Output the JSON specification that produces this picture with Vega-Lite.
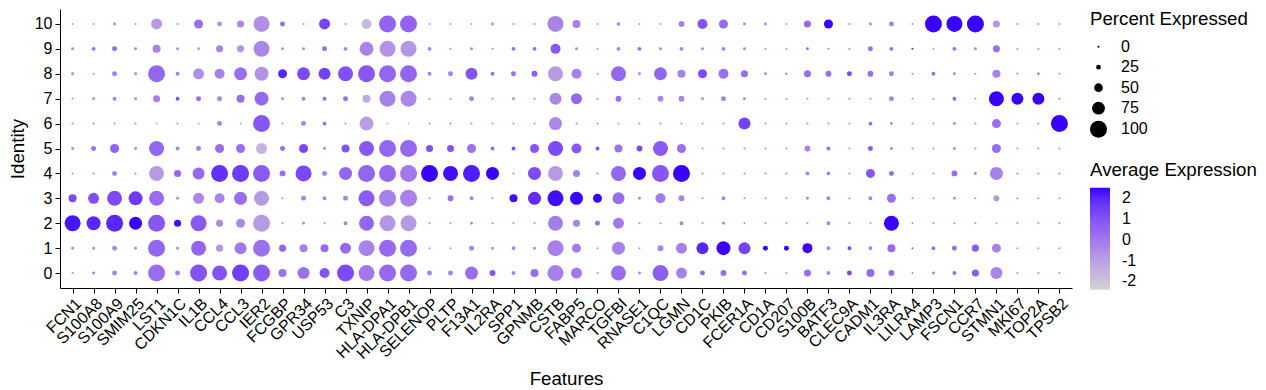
{
"$schema": "https://vega.github.io/schema/vega-lite/v6.json",
"width": 1012, "height": 279,
"autosize": {"type": "none"},
"padding": {"left": 60, "top": 9, "right": 194, "bottom": 102},
"background": "white",
"config": {"view": {"stroke": null}, "font": "Liberation Sans"},
"datasets": {"d": [
{"g":"FCN1","i":10,"p":1,"e":-0.4},{"g":"FCN1","i":9,"p":13,"e":-0.4},{"g":"FCN1","i":8,"p":13,"e":-0.4},{"g":"FCN1","i":7,"p":1,"e":-0.4},{"g":"FCN1","i":6,"p":1,"e":-0.4},{"g":"FCN1","i":5,"p":13,"e":-0.4},{"g":"FCN1","i":4,"p":1,"e":-0.4},{"g":"FCN1","i":3,"p":46,"e":1.2},{"g":"FCN1","i":2,"p":94,"e":2.3},{"g":"FCN1","i":1,"p":13,"e":-0.4},{"g":"FCN1","i":0,"p":1,"e":-0.4},
{"g":"S100A8","i":10,"p":1,"e":-0.4},{"g":"S100A8","i":9,"p":20,"e":0.3},{"g":"S100A8","i":8,"p":1,"e":-0.4},{"g":"S100A8","i":7,"p":13,"e":-0.4},{"g":"S100A8","i":6,"p":1,"e":-0.4},{"g":"S100A8","i":5,"p":27,"e":0.3},{"g":"S100A8","i":4,"p":1,"e":-0.4},{"g":"S100A8","i":3,"p":64,"e":1.1},{"g":"S100A8","i":2,"p":82,"e":2.0},{"g":"S100A8","i":1,"p":13,"e":-0.4},{"g":"S100A8","i":0,"p":13,"e":-0.4},
{"g":"S100A9","i":10,"p":13,"e":-0.4},{"g":"S100A9","i":9,"p":27,"e":0.4},{"g":"S100A9","i":8,"p":27,"e":-0.2},{"g":"S100A9","i":7,"p":20,"e":-0.3},{"g":"S100A9","i":6,"p":1,"e":-0.4},{"g":"S100A9","i":5,"p":52,"e":0.6},{"g":"S100A9","i":4,"p":27,"e":-0.3},{"g":"S100A9","i":3,"p":88,"e":1.2},{"g":"S100A9","i":2,"p":100,"e":2.0},{"g":"S100A9","i":1,"p":27,"e":-0.4},{"g":"S100A9","i":0,"p":27,"e":-0.3},
{"g":"SMIM25","i":10,"p":1,"e":-0.4},{"g":"SMIM25","i":9,"p":13,"e":-0.4},{"g":"SMIM25","i":8,"p":13,"e":-0.4},{"g":"SMIM25","i":7,"p":13,"e":-0.4},{"g":"SMIM25","i":6,"p":1,"e":-0.4},{"g":"SMIM25","i":5,"p":13,"e":-0.4},{"g":"SMIM25","i":4,"p":1,"e":-0.4},{"g":"SMIM25","i":3,"p":82,"e":1.6},{"g":"SMIM25","i":2,"p":76,"e":2.5},{"g":"SMIM25","i":1,"p":13,"e":-0.4},{"g":"SMIM25","i":0,"p":20,"e":-0.3},
{"g":"LST1","i":10,"p":64,"e":-0.9},{"g":"LST1","i":9,"p":46,"e":-0.3},{"g":"LST1","i":8,"p":100,"e":0.5},{"g":"LST1","i":7,"p":40,"e":-0.2},{"g":"LST1","i":6,"p":1,"e":-1.5},{"g":"LST1","i":5,"p":88,"e":0.5},{"g":"LST1","i":4,"p":88,"e":-0.9},{"g":"LST1","i":3,"p":88,"e":0.3},{"g":"LST1","i":2,"p":100,"e":0.9},{"g":"LST1","i":1,"p":100,"e":0.5},{"g":"LST1","i":0,"p":100,"e":0.3},
{"g":"CDKN1C","i":10,"p":1,"e":-0.4},{"g":"CDKN1C","i":9,"p":13,"e":-0.4},{"g":"CDKN1C","i":8,"p":20,"e":-0.3},{"g":"CDKN1C","i":7,"p":20,"e":1.0},{"g":"CDKN1C","i":6,"p":1,"e":-0.4},{"g":"CDKN1C","i":5,"p":20,"e":-0.3},{"g":"CDKN1C","i":4,"p":40,"e":0.5},{"g":"CDKN1C","i":3,"p":13,"e":-0.4},{"g":"CDKN1C","i":2,"p":40,"e":2.4},{"g":"CDKN1C","i":1,"p":13,"e":-0.4},{"g":"CDKN1C","i":0,"p":27,"e":-0.3},
{"g":"IL1B","i":10,"p":52,"e":0.3},{"g":"IL1B","i":9,"p":13,"e":-0.9},{"g":"IL1B","i":8,"p":64,"e":-0.6},{"g":"IL1B","i":7,"p":27,"e":0.3},{"g":"IL1B","i":6,"p":1,"e":-1.0},{"g":"IL1B","i":5,"p":27,"e":-0.3},{"g":"IL1B","i":4,"p":70,"e":0.4},{"g":"IL1B","i":3,"p":64,"e":-0.4},{"g":"IL1B","i":2,"p":94,"e":0.8},{"g":"IL1B","i":1,"p":88,"e":0.5},{"g":"IL1B","i":0,"p":100,"e":1.0},
{"g":"CCL4","i":10,"p":27,"e":-0.8},{"g":"CCL4","i":9,"p":40,"e":-0.3},{"g":"CCL4","i":8,"p":58,"e":-0.2},{"g":"CCL4","i":7,"p":27,"e":-0.3},{"g":"CCL4","i":6,"p":27,"e":-0.4},{"g":"CCL4","i":5,"p":52,"e":0.3},{"g":"CCL4","i":4,"p":100,"e":1.8},{"g":"CCL4","i":3,"p":58,"e":-0.3},{"g":"CCL4","i":2,"p":40,"e":-0.4},{"g":"CCL4","i":1,"p":40,"e":-0.8},{"g":"CCL4","i":0,"p":88,"e":1.0},
{"g":"CCL3","i":10,"p":40,"e":-0.4},{"g":"CCL3","i":9,"p":40,"e":-0.7},{"g":"CCL3","i":8,"p":76,"e":0.3},{"g":"CCL3","i":7,"p":46,"e":0.3},{"g":"CCL3","i":6,"p":1,"e":-0.9},{"g":"CCL3","i":5,"p":52,"e":0.3},{"g":"CCL3","i":4,"p":100,"e":1.6},{"g":"CCL3","i":3,"p":76,"e":0.3},{"g":"CCL3","i":2,"p":52,"e":-0.4},{"g":"CCL3","i":1,"p":70,"e":0.0},{"g":"CCL3","i":0,"p":100,"e":1.5},
{"g":"IER2","i":10,"p":94,"e":-0.6},{"g":"IER2","i":9,"p":94,"e":-0.4},{"g":"IER2","i":8,"p":82,"e":-0.7},{"g":"IER2","i":7,"p":82,"e":0.4},{"g":"IER2","i":6,"p":100,"e":0.9},{"g":"IER2","i":5,"p":64,"e":-1.6},{"g":"IER2","i":4,"p":100,"e":0.8},{"g":"IER2","i":3,"p":88,"e":-0.9},{"g":"IER2","i":2,"p":100,"e":-0.9},{"g":"IER2","i":1,"p":100,"e":0.2},{"g":"IER2","i":0,"p":100,"e":0.8},
{"g":"FCGBP","i":10,"p":27,"e":0.3},{"g":"FCGBP","i":9,"p":13,"e":-0.4},{"g":"FCGBP","i":8,"p":52,"e":2.0},{"g":"FCGBP","i":7,"p":13,"e":-0.4},{"g":"FCGBP","i":6,"p":1,"e":-0.4},{"g":"FCGBP","i":5,"p":27,"e":0.3},{"g":"FCGBP","i":4,"p":33,"e":0.3},{"g":"FCGBP","i":3,"p":1,"e":-0.4},{"g":"FCGBP","i":2,"p":1,"e":-0.4},{"g":"FCGBP","i":1,"p":40,"e":0.5},{"g":"FCGBP","i":0,"p":46,"e":0.2},
{"g":"GPR34","i":10,"p":1,"e":-0.4},{"g":"GPR34","i":9,"p":13,"e":-0.4},{"g":"GPR34","i":8,"p":76,"e":1.2},{"g":"GPR34","i":7,"p":20,"e":-0.3},{"g":"GPR34","i":6,"p":27,"e":-0.3},{"g":"GPR34","i":5,"p":52,"e":1.3},{"g":"GPR34","i":4,"p":94,"e":1.3},{"g":"GPR34","i":3,"p":27,"e":-0.3},{"g":"GPR34","i":2,"p":13,"e":-0.4},{"g":"GPR34","i":1,"p":46,"e":-0.2},{"g":"GPR34","i":0,"p":70,"e":0.2},
{"g":"USP53","i":10,"p":64,"e":1.4},{"g":"USP53","i":9,"p":27,"e":0.3},{"g":"USP53","i":8,"p":70,"e":1.4},{"g":"USP53","i":7,"p":20,"e":0.3},{"g":"USP53","i":6,"p":20,"e":0.3},{"g":"USP53","i":5,"p":13,"e":-0.4},{"g":"USP53","i":4,"p":27,"e":-0.3},{"g":"USP53","i":3,"p":20,"e":-0.3},{"g":"USP53","i":2,"p":1,"e":-0.4},{"g":"USP53","i":1,"p":46,"e":0.3},{"g":"USP53","i":0,"p":58,"e":1.0},
{"g":"C3","i":10,"p":1,"e":-0.4},{"g":"C3","i":9,"p":20,"e":-0.3},{"g":"C3","i":8,"p":88,"e":1.1},{"g":"C3","i":7,"p":27,"e":0.3},{"g":"C3","i":6,"p":1,"e":-0.4},{"g":"C3","i":5,"p":46,"e":1.0},{"g":"C3","i":4,"p":76,"e":0.5},{"g":"C3","i":3,"p":27,"e":-0.3},{"g":"C3","i":2,"p":20,"e":-0.3},{"g":"C3","i":1,"p":64,"e":0.4},{"g":"C3","i":0,"p":100,"e":1.2},
{"g":"TXNIP","i":10,"p":58,"e":-1.7},{"g":"TXNIP","i":9,"p":82,"e":-0.3},{"g":"TXNIP","i":8,"p":100,"e":0.9},{"g":"TXNIP","i":7,"p":46,"e":-1.3},{"g":"TXNIP","i":6,"p":82,"e":-1.0},{"g":"TXNIP","i":5,"p":88,"e":0.9},{"g":"TXNIP","i":4,"p":100,"e":0.5},{"g":"TXNIP","i":3,"p":94,"e":0.8},{"g":"TXNIP","i":2,"p":88,"e":0.5},{"g":"TXNIP","i":1,"p":94,"e":-0.3},{"g":"TXNIP","i":0,"p":94,"e":0.0},
{"g":"HLA-DPA1","i":10,"p":100,"e":0.6},{"g":"HLA-DPA1","i":9,"p":94,"e":-0.7},{"g":"HLA-DPA1","i":8,"p":100,"e":0.5},{"g":"HLA-DPA1","i":7,"p":94,"e":-0.2},{"g":"HLA-DPA1","i":6,"p":1,"e":-1.8},{"g":"HLA-DPA1","i":5,"p":100,"e":0.5},{"g":"HLA-DPA1","i":4,"p":100,"e":0.4},{"g":"HLA-DPA1","i":3,"p":100,"e":-0.2},{"g":"HLA-DPA1","i":2,"p":94,"e":-0.8},{"g":"HLA-DPA1","i":1,"p":100,"e":0.4},{"g":"HLA-DPA1","i":0,"p":100,"e":0.4},
{"g":"HLA-DPB1","i":10,"p":100,"e":0.6},{"g":"HLA-DPB1","i":9,"p":94,"e":-0.8},{"g":"HLA-DPB1","i":8,"p":100,"e":0.5},{"g":"HLA-DPB1","i":7,"p":94,"e":-0.4},{"g":"HLA-DPB1","i":6,"p":1,"e":-1.8},{"g":"HLA-DPB1","i":5,"p":100,"e":0.4},{"g":"HLA-DPB1","i":4,"p":100,"e":0.0},{"g":"HLA-DPB1","i":3,"p":100,"e":-0.2},{"g":"HLA-DPB1","i":2,"p":94,"e":-0.9},{"g":"HLA-DPB1","i":1,"p":100,"e":0.4},{"g":"HLA-DPB1","i":0,"p":100,"e":0.4},
{"g":"SELENOP","i":10,"p":1,"e":-0.4},{"g":"SELENOP","i":9,"p":20,"e":-0.3},{"g":"SELENOP","i":8,"p":20,"e":-0.3},{"g":"SELENOP","i":7,"p":1,"e":-0.4},{"g":"SELENOP","i":6,"p":1,"e":-0.4},{"g":"SELENOP","i":5,"p":40,"e":1.1},{"g":"SELENOP","i":4,"p":100,"e":2.5},{"g":"SELENOP","i":3,"p":1,"e":-0.4},{"g":"SELENOP","i":2,"p":1,"e":-0.4},{"g":"SELENOP","i":1,"p":1,"e":-0.4},{"g":"SELENOP","i":0,"p":27,"e":-0.3},
{"g":"PLTP","i":10,"p":1,"e":-0.4},{"g":"PLTP","i":9,"p":1,"e":-0.4},{"g":"PLTP","i":8,"p":27,"e":-0.2},{"g":"PLTP","i":7,"p":1,"e":-0.4},{"g":"PLTP","i":6,"p":1,"e":-0.4},{"g":"PLTP","i":5,"p":40,"e":1.0},{"g":"PLTP","i":4,"p":88,"e":2.4},{"g":"PLTP","i":3,"p":33,"e":0.3},{"g":"PLTP","i":2,"p":1,"e":-0.4},{"g":"PLTP","i":1,"p":1,"e":-0.4},{"g":"PLTP","i":0,"p":27,"e":-0.3},
{"g":"F13A1","i":10,"p":1,"e":-0.4},{"g":"F13A1","i":9,"p":13,"e":-0.4},{"g":"F13A1","i":8,"p":70,"e":1.0},{"g":"F13A1","i":7,"p":27,"e":-0.3},{"g":"F13A1","i":6,"p":1,"e":-0.4},{"g":"F13A1","i":5,"p":52,"e":0.2},{"g":"F13A1","i":4,"p":100,"e":2.2},{"g":"F13A1","i":3,"p":20,"e":-0.3},{"g":"F13A1","i":2,"p":13,"e":-0.4},{"g":"F13A1","i":1,"p":27,"e":-0.3},{"g":"F13A1","i":0,"p":76,"e":0.3},
{"g":"IL2RA","i":10,"p":13,"e":-0.4},{"g":"IL2RA","i":9,"p":1,"e":-0.4},{"g":"IL2RA","i":8,"p":20,"e":0.3},{"g":"IL2RA","i":7,"p":1,"e":-0.4},{"g":"IL2RA","i":6,"p":1,"e":-0.4},{"g":"IL2RA","i":5,"p":20,"e":0.3},{"g":"IL2RA","i":4,"p":76,"e":2.5},{"g":"IL2RA","i":3,"p":1,"e":-0.4},{"g":"IL2RA","i":2,"p":1,"e":-0.4},{"g":"IL2RA","i":1,"p":13,"e":-0.4},{"g":"IL2RA","i":0,"p":33,"e":0.9},
{"g":"SPP1","i":10,"p":1,"e":-0.4},{"g":"SPP1","i":9,"p":20,"e":0.3},{"g":"SPP1","i":8,"p":27,"e":0.3},{"g":"SPP1","i":7,"p":13,"e":-0.4},{"g":"SPP1","i":6,"p":1,"e":-0.4},{"g":"SPP1","i":5,"p":20,"e":1.2},{"g":"SPP1","i":4,"p":1,"e":-0.4},{"g":"SPP1","i":3,"p":46,"e":2.4},{"g":"SPP1","i":2,"p":1,"e":-0.4},{"g":"SPP1","i":1,"p":20,"e":-0.3},{"g":"SPP1","i":0,"p":20,"e":-0.3},
{"g":"GPNMB","i":10,"p":1,"e":-0.4},{"g":"GPNMB","i":9,"p":20,"e":0.3},{"g":"GPNMB","i":8,"p":33,"e":0.8},{"g":"GPNMB","i":7,"p":1,"e":-0.4},{"g":"GPNMB","i":6,"p":1,"e":-0.4},{"g":"GPNMB","i":5,"p":52,"e":0.9},{"g":"GPNMB","i":4,"p":76,"e":1.2},{"g":"GPNMB","i":3,"p":76,"e":1.9},{"g":"GPNMB","i":2,"p":1,"e":-0.4},{"g":"GPNMB","i":1,"p":13,"e":-0.4},{"g":"GPNMB","i":0,"p":46,"e":0.3},
{"g":"CSTB","i":10,"p":94,"e":-0.3},{"g":"CSTB","i":9,"p":58,"e":0.9},{"g":"CSTB","i":8,"p":88,"e":-0.9},{"g":"CSTB","i":7,"p":70,"e":-0.4},{"g":"CSTB","i":6,"p":76,"e":-0.4},{"g":"CSTB","i":5,"p":88,"e":1.2},{"g":"CSTB","i":4,"p":88,"e":-0.9},{"g":"CSTB","i":3,"p":94,"e":2.4},{"g":"CSTB","i":2,"p":88,"e":-0.1},{"g":"CSTB","i":1,"p":94,"e":-0.2},{"g":"CSTB","i":0,"p":94,"e":-0.2},
{"g":"FABP5","i":10,"p":46,"e":-0.2},{"g":"FABP5","i":9,"p":13,"e":-0.4},{"g":"FABP5","i":8,"p":58,"e":-0.2},{"g":"FABP5","i":7,"p":64,"e":0.5},{"g":"FABP5","i":6,"p":1,"e":-0.4},{"g":"FABP5","i":5,"p":58,"e":0.9},{"g":"FABP5","i":4,"p":40,"e":-0.2},{"g":"FABP5","i":3,"p":76,"e":2.5},{"g":"FABP5","i":2,"p":40,"e":-0.3},{"g":"FABP5","i":1,"p":52,"e":0.0},{"g":"FABP5","i":0,"p":64,"e":0.0},
{"g":"MARCO","i":10,"p":1,"e":-0.4},{"g":"MARCO","i":9,"p":1,"e":-0.4},{"g":"MARCO","i":8,"p":1,"e":-0.4},{"g":"MARCO","i":7,"p":1,"e":-0.4},{"g":"MARCO","i":6,"p":1,"e":-0.4},{"g":"MARCO","i":5,"p":20,"e":1.0},{"g":"MARCO","i":4,"p":1,"e":-0.4},{"g":"MARCO","i":3,"p":52,"e":2.5},{"g":"MARCO","i":2,"p":27,"e":0.3},{"g":"MARCO","i":1,"p":1,"e":-0.4},{"g":"MARCO","i":0,"p":1,"e":-0.4},
{"g":"TGFBI","i":10,"p":20,"e":-0.7},{"g":"TGFBI","i":9,"p":20,"e":-0.3},{"g":"TGFBI","i":8,"p":88,"e":0.5},{"g":"TGFBI","i":7,"p":33,"e":0.2},{"g":"TGFBI","i":6,"p":1,"e":-0.9},{"g":"TGFBI","i":5,"p":46,"e":0.2},{"g":"TGFBI","i":4,"p":88,"e":0.5},{"g":"TGFBI","i":3,"p":70,"e":0.3},{"g":"TGFBI","i":2,"p":64,"e":0.0},{"g":"TGFBI","i":1,"p":76,"e":-0.2},{"g":"TGFBI","i":0,"p":88,"e":0.3},
{"g":"RNASE1","i":10,"p":1,"e":-0.4},{"g":"RNASE1","i":9,"p":20,"e":0.3},{"g":"RNASE1","i":8,"p":13,"e":-0.4},{"g":"RNASE1","i":7,"p":1,"e":-0.4},{"g":"RNASE1","i":6,"p":1,"e":-0.4},{"g":"RNASE1","i":5,"p":33,"e":1.2},{"g":"RNASE1","i":4,"p":76,"e":2.5},{"g":"RNASE1","i":3,"p":13,"e":-0.4},{"g":"RNASE1","i":2,"p":1,"e":-0.4},{"g":"RNASE1","i":1,"p":1,"e":-0.4},{"g":"RNASE1","i":0,"p":13,"e":-0.4},
{"g":"C1QC","i":10,"p":1,"e":-0.4},{"g":"C1QC","i":9,"p":13,"e":-0.4},{"g":"C1QC","i":8,"p":76,"e":0.5},{"g":"C1QC","i":7,"p":33,"e":-0.3},{"g":"C1QC","i":6,"p":1,"e":-0.4},{"g":"C1QC","i":5,"p":88,"e":0.8},{"g":"C1QC","i":4,"p":100,"e":0.9},{"g":"C1QC","i":3,"p":58,"e":0.0},{"g":"C1QC","i":2,"p":1,"e":-0.4},{"g":"C1QC","i":1,"p":33,"e":-0.3},{"g":"C1QC","i":0,"p":94,"e":0.7},
{"g":"LGMN","i":10,"p":33,"e":-0.3},{"g":"LGMN","i":9,"p":20,"e":-0.3},{"g":"LGMN","i":8,"p":46,"e":-0.3},{"g":"LGMN","i":7,"p":33,"e":-0.3},{"g":"LGMN","i":6,"p":1,"e":-0.4},{"g":"LGMN","i":5,"p":52,"e":0.3},{"g":"LGMN","i":4,"p":100,"e":2.5},{"g":"LGMN","i":3,"p":33,"e":-0.3},{"g":"LGMN","i":2,"p":20,"e":-0.3},{"g":"LGMN","i":1,"p":64,"e":-0.2},{"g":"LGMN","i":0,"p":64,"e":-0.2},
{"g":"CD1C","i":10,"p":58,"e":1.0},{"g":"CD1C","i":9,"p":13,"e":-0.4},{"g":"CD1C","i":8,"p":52,"e":1.2},{"g":"CD1C","i":7,"p":13,"e":-0.4},{"g":"CD1C","i":6,"p":1,"e":-0.4},{"g":"CD1C","i":5,"p":1,"e":-0.4},{"g":"CD1C","i":4,"p":1,"e":-0.4},{"g":"CD1C","i":3,"p":1,"e":-0.4},{"g":"CD1C","i":2,"p":1,"e":-0.4},{"g":"CD1C","i":1,"p":70,"e":2.0},{"g":"CD1C","i":0,"p":27,"e":0.3},
{"g":"PKIB","i":10,"p":52,"e":0.4},{"g":"PKIB","i":9,"p":20,"e":-0.3},{"g":"PKIB","i":8,"p":58,"e":0.3},{"g":"PKIB","i":7,"p":27,"e":-0.3},{"g":"PKIB","i":6,"p":1,"e":-0.4},{"g":"PKIB","i":5,"p":1,"e":-0.4},{"g":"PKIB","i":4,"p":1,"e":-0.4},{"g":"PKIB","i":3,"p":20,"e":-0.3},{"g":"PKIB","i":2,"p":13,"e":-0.4},{"g":"PKIB","i":1,"p":82,"e":2.5},{"g":"PKIB","i":0,"p":33,"e":0.3},
{"g":"FCER1A","i":10,"p":13,"e":-0.4},{"g":"FCER1A","i":9,"p":13,"e":-0.4},{"g":"FCER1A","i":8,"p":40,"e":0.3},{"g":"FCER1A","i":7,"p":13,"e":-0.4},{"g":"FCER1A","i":6,"p":70,"e":1.4},{"g":"FCER1A","i":5,"p":1,"e":-0.4},{"g":"FCER1A","i":4,"p":1,"e":-0.4},{"g":"FCER1A","i":3,"p":1,"e":-0.4},{"g":"FCER1A","i":2,"p":1,"e":-0.4},{"g":"FCER1A","i":1,"p":70,"e":1.4},{"g":"FCER1A","i":0,"p":27,"e":0.3},
{"g":"CD1A","i":10,"p":13,"e":-0.4},{"g":"CD1A","i":9,"p":1,"e":-0.4},{"g":"CD1A","i":8,"p":13,"e":-0.4},{"g":"CD1A","i":7,"p":1,"e":-0.4},{"g":"CD1A","i":6,"p":1,"e":-0.4},{"g":"CD1A","i":5,"p":1,"e":-0.4},{"g":"CD1A","i":4,"p":1,"e":-0.4},{"g":"CD1A","i":3,"p":1,"e":-0.4},{"g":"CD1A","i":2,"p":1,"e":-0.4},{"g":"CD1A","i":1,"p":27,"e":2.5},{"g":"CD1A","i":0,"p":1,"e":-0.4},
{"g":"CD207","i":10,"p":1,"e":-0.4},{"g":"CD207","i":9,"p":1,"e":-0.4},{"g":"CD207","i":8,"p":1,"e":1.0},{"g":"CD207","i":7,"p":1,"e":-0.4},{"g":"CD207","i":6,"p":1,"e":-0.4},{"g":"CD207","i":5,"p":1,"e":-0.4},{"g":"CD207","i":4,"p":1,"e":-0.4},{"g":"CD207","i":3,"p":1,"e":-0.4},{"g":"CD207","i":2,"p":1,"e":-0.4},{"g":"CD207","i":1,"p":27,"e":2.5},{"g":"CD207","i":0,"p":1,"e":-0.4},
{"g":"S100B","i":10,"p":40,"e":0.4},{"g":"S100B","i":9,"p":13,"e":0.3},{"g":"S100B","i":8,"p":40,"e":0.3},{"g":"S100B","i":7,"p":1,"e":-0.4},{"g":"S100B","i":6,"p":1,"e":-0.4},{"g":"S100B","i":5,"p":33,"e":-0.3},{"g":"S100B","i":4,"p":20,"e":-0.3},{"g":"S100B","i":3,"p":13,"e":-0.4},{"g":"S100B","i":2,"p":1,"e":-0.4},{"g":"S100B","i":1,"p":58,"e":2.5},{"g":"S100B","i":0,"p":40,"e":0.3},
{"g":"BATF3","i":10,"p":52,"e":2.5},{"g":"BATF3","i":9,"p":1,"e":-0.4},{"g":"BATF3","i":8,"p":33,"e":0.3},{"g":"BATF3","i":7,"p":1,"e":-0.4},{"g":"BATF3","i":6,"p":1,"e":-0.4},{"g":"BATF3","i":5,"p":20,"e":0.3},{"g":"BATF3","i":4,"p":20,"e":-0.3},{"g":"BATF3","i":3,"p":20,"e":-0.3},{"g":"BATF3","i":2,"p":20,"e":-0.3},{"g":"BATF3","i":1,"p":20,"e":-0.3},{"g":"BATF3","i":0,"p":20,"e":-0.3},
{"g":"CLEC9A","i":10,"p":1,"e":-0.4},{"g":"CLEC9A","i":9,"p":1,"e":-0.4},{"g":"CLEC9A","i":8,"p":27,"e":1.2},{"g":"CLEC9A","i":7,"p":1,"e":-0.4},{"g":"CLEC9A","i":6,"p":1,"e":-0.4},{"g":"CLEC9A","i":5,"p":1,"e":-0.4},{"g":"CLEC9A","i":4,"p":1,"e":-0.4},{"g":"CLEC9A","i":3,"p":1,"e":-0.4},{"g":"CLEC9A","i":2,"p":1,"e":-0.4},{"g":"CLEC9A","i":1,"p":20,"e":1.3},{"g":"CLEC9A","i":0,"p":27,"e":1.2},
{"g":"CADM1","i":10,"p":13,"e":-0.4},{"g":"CADM1","i":9,"p":27,"e":0.3},{"g":"CADM1","i":8,"p":33,"e":0.3},{"g":"CADM1","i":7,"p":1,"e":-0.4},{"g":"CADM1","i":6,"p":20,"e":0.3},{"g":"CADM1","i":5,"p":27,"e":0.8},{"g":"CADM1","i":4,"p":52,"e":0.9},{"g":"CADM1","i":3,"p":20,"e":-0.3},{"g":"CADM1","i":2,"p":1,"e":-0.6},{"g":"CADM1","i":1,"p":20,"e":-0.3},{"g":"CADM1","i":0,"p":46,"e":0.4},
{"g":"IL3RA","i":10,"p":27,"e":-0.3},{"g":"IL3RA","i":9,"p":20,"e":0.3},{"g":"IL3RA","i":8,"p":27,"e":-0.3},{"g":"IL3RA","i":7,"p":27,"e":-0.3},{"g":"IL3RA","i":6,"p":13,"e":-0.4},{"g":"IL3RA","i":5,"p":13,"e":-0.4},{"g":"IL3RA","i":4,"p":27,"e":0.3},{"g":"IL3RA","i":3,"p":52,"e":0.3},{"g":"IL3RA","i":2,"p":88,"e":2.5},{"g":"IL3RA","i":1,"p":46,"e":0.4},{"g":"IL3RA","i":0,"p":33,"e":0.3},
{"g":"LILRA4","i":10,"p":1,"e":-0.4},{"g":"LILRA4","i":9,"p":1,"e":2.0},{"g":"LILRA4","i":8,"p":1,"e":-0.4},{"g":"LILRA4","i":7,"p":1,"e":-0.4},{"g":"LILRA4","i":6,"p":1,"e":-0.4},{"g":"LILRA4","i":5,"p":1,"e":-0.4},{"g":"LILRA4","i":4,"p":1,"e":-0.4},{"g":"LILRA4","i":3,"p":1,"e":-0.4},{"g":"LILRA4","i":2,"p":1,"e":-0.4},{"g":"LILRA4","i":1,"p":1,"e":1.0},{"g":"LILRA4","i":0,"p":1,"e":-0.4},
{"g":"LAMP3","i":10,"p":100,"e":2.5},{"g":"LAMP3","i":9,"p":1,"e":-0.4},{"g":"LAMP3","i":8,"p":20,"e":0.3},{"g":"LAMP3","i":7,"p":1,"e":-0.4},{"g":"LAMP3","i":6,"p":1,"e":-0.4},{"g":"LAMP3","i":5,"p":1,"e":-0.4},{"g":"LAMP3","i":4,"p":1,"e":-0.4},{"g":"LAMP3","i":3,"p":1,"e":-0.4},{"g":"LAMP3","i":2,"p":1,"e":-0.4},{"g":"LAMP3","i":1,"p":20,"e":0.3},{"g":"LAMP3","i":0,"p":13,"e":-0.4},
{"g":"FSCN1","i":10,"p":94,"e":2.5},{"g":"FSCN1","i":9,"p":20,"e":0.3},{"g":"FSCN1","i":8,"p":13,"e":-0.4},{"g":"FSCN1","i":7,"p":20,"e":0.3},{"g":"FSCN1","i":6,"p":13,"e":-0.4},{"g":"FSCN1","i":5,"p":13,"e":-0.4},{"g":"FSCN1","i":4,"p":33,"e":0.3},{"g":"FSCN1","i":3,"p":13,"e":-0.4},{"g":"FSCN1","i":2,"p":1,"e":-0.4},{"g":"FSCN1","i":1,"p":27,"e":0.3},{"g":"FSCN1","i":0,"p":20,"e":0.3},
{"g":"CCR7","i":10,"p":100,"e":2.5},{"g":"CCR7","i":9,"p":13,"e":-0.4},{"g":"CCR7","i":8,"p":1,"e":-0.4},{"g":"CCR7","i":7,"p":1,"e":-0.4},{"g":"CCR7","i":6,"p":1,"e":-0.4},{"g":"CCR7","i":5,"p":1,"e":-0.4},{"g":"CCR7","i":4,"p":13,"e":-0.4},{"g":"CCR7","i":3,"p":1,"e":-0.4},{"g":"CCR7","i":2,"p":1,"e":-0.4},{"g":"CCR7","i":1,"p":40,"e":0.8},{"g":"CCR7","i":0,"p":40,"e":0.8},
{"g":"STMN1","i":10,"p":40,"e":-0.8},{"g":"STMN1","i":9,"p":40,"e":0.2},{"g":"STMN1","i":8,"p":46,"e":-0.3},{"g":"STMN1","i":7,"p":88,"e":2.5},{"g":"STMN1","i":6,"p":52,"e":0.3},{"g":"STMN1","i":5,"p":52,"e":0.3},{"g":"STMN1","i":4,"p":76,"e":-0.2},{"g":"STMN1","i":3,"p":33,"e":-0.8},{"g":"STMN1","i":2,"p":1,"e":-0.9},{"g":"STMN1","i":1,"p":52,"e":-0.2},{"g":"STMN1","i":0,"p":70,"e":-0.3},
{"g":"MKI67","i":10,"p":1,"e":-0.4},{"g":"MKI67","i":9,"p":1,"e":-0.4},{"g":"MKI67","i":8,"p":1,"e":-0.4},{"g":"MKI67","i":7,"p":70,"e":2.5},{"g":"MKI67","i":6,"p":1,"e":-0.4},{"g":"MKI67","i":5,"p":1,"e":-0.4},{"g":"MKI67","i":4,"p":1,"e":-0.4},{"g":"MKI67","i":3,"p":1,"e":-0.4},{"g":"MKI67","i":2,"p":1,"e":-0.4},{"g":"MKI67","i":1,"p":1,"e":-0.4},{"g":"MKI67","i":0,"p":1,"e":-0.4},
{"g":"TOP2A","i":10,"p":1,"e":-0.4},{"g":"TOP2A","i":9,"p":1,"e":-0.4},{"g":"TOP2A","i":8,"p":13,"e":-0.4},{"g":"TOP2A","i":7,"p":70,"e":2.5},{"g":"TOP2A","i":6,"p":1,"e":-0.4},{"g":"TOP2A","i":5,"p":1,"e":-0.4},{"g":"TOP2A","i":4,"p":1,"e":-0.4},{"g":"TOP2A","i":3,"p":1,"e":-0.4},{"g":"TOP2A","i":2,"p":1,"e":-0.4},{"g":"TOP2A","i":1,"p":1,"e":-0.4},{"g":"TOP2A","i":0,"p":1,"e":-0.4},
{"g":"TPSB2","i":10,"p":1,"e":-0.4},{"g":"TPSB2","i":9,"p":1,"e":-0.4},{"g":"TPSB2","i":8,"p":1,"e":-0.4},{"g":"TPSB2","i":7,"p":1,"e":-0.4},{"g":"TPSB2","i":6,"p":100,"e":2.5},{"g":"TPSB2","i":5,"p":1,"e":-0.4},{"g":"TPSB2","i":4,"p":1,"e":-0.4},{"g":"TPSB2","i":3,"p":1,"e":-0.4},{"g":"TPSB2","i":2,"p":1,"e":-0.4},{"g":"TPSB2","i":1,"p":1,"e":-0.4},{"g":"TPSB2","i":0,"p":1,"e":-0.4}
]},
"data": {"name": "d"},
"mark": {"type": "circle", "opacity": 1},
"encoding": {
"x": {"field": "g", "type": "nominal",
 "scale": {"domain": ["FCN1","S100A8","S100A9","SMIM25","LST1","CDKN1C","IL1B","CCL4","CCL3","IER2","FCGBP","GPR34","USP53","C3","TXNIP","HLA-DPA1","HLA-DPB1","SELENOP","PLTP","F13A1","IL2RA","SPP1","GPNMB","CSTB","FABP5","MARCO","TGFBI","RNASE1","C1QC","LGMN","CD1C","PKIB","FCER1A","CD1A","CD207","S100B","BATF3","CLEC9A","CADM1","IL3RA","LILRA4","LAMP3","FSCN1","CCR7","STMN1","MKI67","TOP2A","TPSB2"], "padding": 0.6},
 "axis": {"title": "Features", "labelAngle": -45, "labelAlign": "right", "labelBaseline": "top", "labelFontSize": 16, "labelColor": "black", "labelPadding": 2, "tickColor": "black", "tickSize": 5, "domainColor": "black", "domainWidth": 1, "grid": false, "titleFontSize": 18.7, "titleFontWeight": "normal", "titleColor": "black", "titlePadding": 8, "labelOverlap": false}},
"y": {"field": "i", "type": "ordinal",
 "scale": {"domain": [10,9,8,7,6,5,4,3,2,1,0], "padding": 0.6},
 "axis": {"title": "Identity", "labelFontSize": 16, "labelColor": "black", "labelPadding": 3, "tickColor": "black", "tickSize": 5, "domainColor": "black", "domainWidth": 1, "grid": false, "titleFontSize": 18.7, "titleFontWeight": "normal", "titleColor": "black", "titlePadding": 7}},
"size": {"field": "p", "type": "quantitative",
 "scale": {"type": "pow", "exponent": 2, "domain": [0, 100], "range": [4, 289], "zero": false},
 "legend": {"title": "Percent Expressed", "orient": "none", "legendX": 1030, "legendY": 1, "values": [0, 25, 50, 75, 100], "symbolFillColor": "black", "symbolStrokeWidth": 0, "symbolOpacity": 1, "symbolType": "circle", "labelFontSize": 16, "labelColor": "black", "titleFontSize": 18.7, "titleFontWeight": "normal", "titleColor": "black", "rowPadding": 4.5, "labelOffset": 14, "padding": 0, "titlePadding": 10}},
"color": {"field": "e", "type": "quantitative",
 "scale": {"domain": [-2.4, 2.5], "range": ["#D3D3D3", "#3A00FF"], "interpolate": "lab", "clamp": true},
 "legend": {"title": "Average Expression", "orient": "none", "legendX": 1030, "legendY": 152, "values": [-2, -1, 0, 1, 2], "labelExpr": "replace(datum.label, '−', '-')", "gradientLength": 102, "gradientThickness": 20, "gradientStrokeWidth": 0, "labelFontSize": 16, "labelColor": "black", "titleFontSize": 18.7, "titleFontWeight": "normal", "titleColor": "black", "labelOffset": 12, "padding": 0, "titlePadding": 8}}
}
}
